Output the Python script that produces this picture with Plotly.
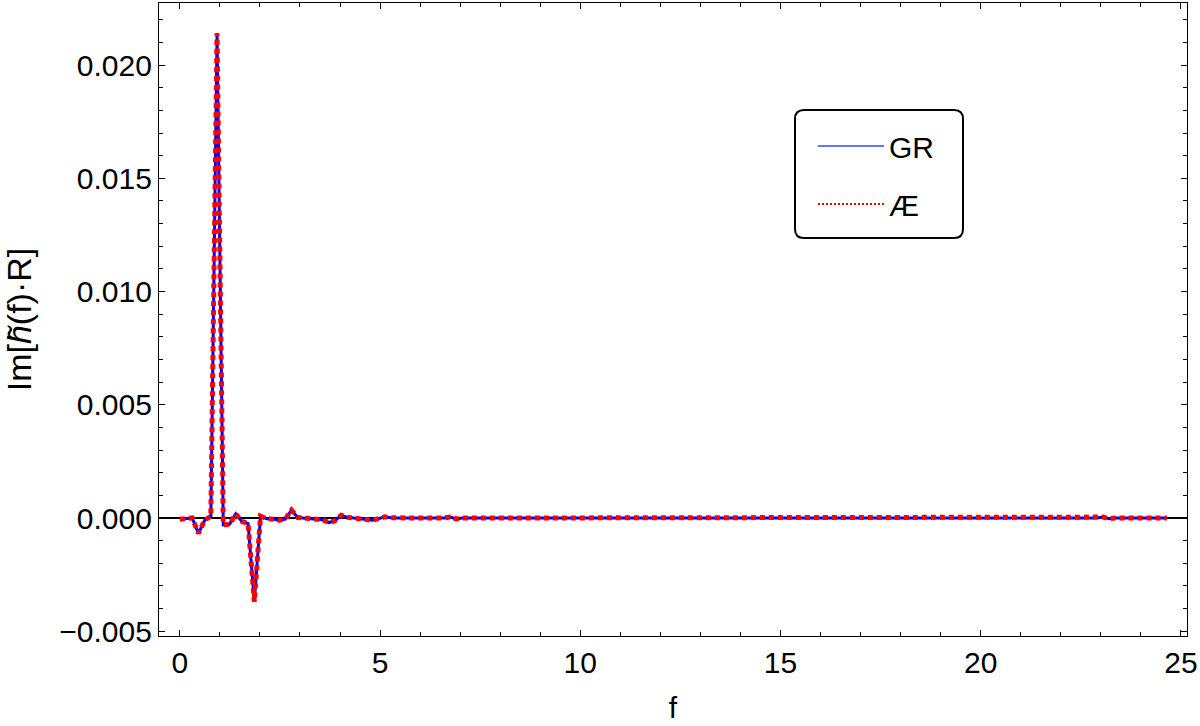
import plotly.graph_objects as go

# ---- data ----
f_vals = [0.0, 0.155, 0.31, 0.465, 0.62, 0.775, 0.93, 1.085, 1.24, 1.395, 1.55, 1.705,
          1.86, 2.015, 2.17, 2.325, 2.48, 2.635, 2.79, 2.945, 3.1, 3.255, 3.41, 3.565,
          3.72, 3.875, 4.03, 4.185, 4.34, 4.495, 4.65, 4.805, 4.96, 5.115, 5.27, 5.425,
          6.0, 6.6, 6.75, 6.9, 7.05, 8.0, 9.0, 10.0, 11.0, 12.0, 13.0, 14.0, 15.0, 16.0,
          17.0, 18.0, 19.0, 20.0, 21.0, 22.0, 22.9, 23.05, 23.2, 23.35, 24.0, 24.65]
im_gr = [-0.00005, -0.00003, 0.0, -0.00068, -0.0001, 0.00008, 0.0214, -0.0003, -0.00028,
         0.00018, -0.00015, -0.00025, -0.0037, 0.00008, -0.00003, -0.00005, -0.0001,
         -0.00005, 0.00035, 0.00002, -0.00002, -0.00003, -0.00005, -0.00008, -0.0002,
         -0.00012, 0.00012, 0.00003, 0.0, -0.00003, -0.00005, -0.0001, -0.00003, 0.00005,
         0.00001, 0.0, 0.0, 0.0, 0.00004, -0.00004, 0.0, 0.0, 0.0, 0.0, 0.0, 0.0, 0.0, 0.0,
         0.0, 0.0, 0.0, 0.0, 0.0, 0.0, 0.0, 0.0, 0.0, 0.00004, -0.00003, 0.0, 0.0, 0.0]
im_ae = list(im_gr)

x_ticks = [0, 5, 10, 15, 20, 25]
y_ticks = [-0.005, 0.0, 0.005, 0.010, 0.015, 0.020]
y_ticktext = ["\u22120.005", "0.000", "0.005", "0.010", "0.015", "0.020"]
series_names = ["GR", "Æ"]

FONT = "Liberation Sans, Arial, sans-serif"

fig = go.Figure()
fig.add_trace(go.Scatter(x=f_vals, y=im_gr, mode="lines", showlegend=False,
                         line=dict(color="#0000ff", width=3)))
fig.add_trace(go.Scatter(x=f_vals, y=im_ae, mode="lines", showlegend=False,
                         line=dict(color="#ff0000", width=5, dash="5px,4px")))
# legend entries (thin samples as in reference)
fig.add_trace(go.Scatter(x=[None], y=[None], mode="lines", name=series_names[0],
                         legendgroup="a", line=dict(color="#4040ff", width=1.5)))
fig.add_trace(go.Scatter(x=[None], y=[None], mode="lines", name=series_names[1],
                         legendgroup="b", line=dict(color="#ff0000", width=2, dash="2px,2px")))

# plot area geometry in pixels (for legend frame)
L, R, T, B = 159, 1187, 3, 636
W, H = R - L, B - T
bx0, bx1, by0, by1 = 795, 963, 110, 238
r = 9
def px(x):
    return (x - L) / W
def py(y):
    return (B - y) / H
path = (f"M{px(bx0 + r)},{py(by0)} L{px(bx1 - r)},{py(by0)} "
        f"Q{px(bx1)},{py(by0)} {px(bx1)},{py(by0 + r)} "
        f"L{px(bx1)},{py(by1 - r)} Q{px(bx1)},{py(by1)} {px(bx1 - r)},{py(by1)} "
        f"L{px(bx0 + r)},{py(by1)} Q{px(bx0)},{py(by1)} {px(bx0)},{py(by1 - r)} "
        f"L{px(bx0)},{py(by0 + r)} Q{px(bx0)},{py(by0)} {px(bx0 + r)},{py(by0)} Z")

fig.update_layout(
    width=1200, height=726,
    margin=dict(l=L, r=1200 - R, t=T, b=726 - B),
    paper_bgcolor="white", plot_bgcolor="white",
    font=dict(family=FONT, size=30, color="#000000"),
    shapes=[dict(type="path", xref="paper", yref="paper", path=path,
                 line=dict(color="#000000", width=2), fillcolor="rgba(0,0,0,0)")],
    legend=dict(x=px(813), y=py(120), xanchor="left", yanchor="top",
                bgcolor="rgba(0,0,0,0)", borderwidth=0,
                font=dict(family=FONT, size=30, color="#000000"),
                itemwidth=66, tracegroupgap=16, traceorder="grouped"),
)

fig.update_xaxes(
    range=[-0.52, 25.15], showgrid=False, zeroline=False, automargin=False,
    showline=True, linecolor="#000000", linewidth=1.3, mirror="allticks",
    ticks="inside", ticklen=6, tickwidth=1, tickcolor="#000000",
    tickvals=x_ticks, ticklabelstandoff=0,
    minor=dict(dtick=1, tick0=0, ticks="inside", ticklen=3.5, tickwidth=1, tickcolor="#000000"),
    title=dict(text="f", font=dict(family=FONT, size=30), standoff=18),
)
fig.update_yaxes(
    range=[-0.00521, 0.02274], showgrid=False, automargin=False,
    zeroline=True, zerolinecolor="#000000", zerolinewidth=2,
    showline=True, linecolor="#000000", linewidth=1.3, mirror="allticks",
    ticks="inside", ticklen=6, tickwidth=1, tickcolor="#000000",
    tickvals=y_ticks, ticktext=y_ticktext, ticklabelstandoff=0,
    minor=dict(dtick=0.001, tick0=0, ticks="inside", ticklen=3.5, tickwidth=1, tickcolor="#000000"),
    title=dict(text="Im[<i>h\u0303</i>(f)\u00b7R]", font=dict(family=FONT, size=34), standoff=25),
)

fig.write_html("out.html", config={"displayModeBar": False},
               post_script="document.body.style.margin='0';")
